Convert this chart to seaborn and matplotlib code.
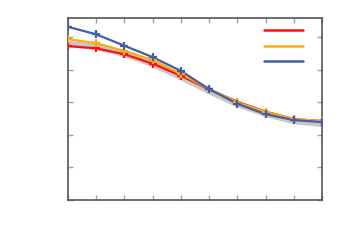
import numpy as np
import pandas as pd
import seaborn as sns
import matplotlib.pyplot as plt
from matplotlib.lines import Line2D

# values
steps = list(range(10))
red_vals = [4.72, 4.65, 4.47, 4.18, 3.81, 3.39, 3.01, 2.71, 2.48, 2.42]
orange_vals = [4.93, 4.81, 4.57, 4.29, 3.87, 3.40, 2.99, 2.70, 2.48, 2.42]
blue_vals = [5.31, 5.08, 4.73, 4.38, 3.96, 3.40, 2.95, 2.63, 2.45, 2.39]
gray_vals = [4.79, 4.69, 4.48, 4.17, 3.77, 3.34, 2.94, 2.64, 2.42, 2.33]
series = ['a', 'b', 'c']
colors = ['#ff1010', '#ffaa10', '#4060a8']

df = pd.DataFrame({
    'x': steps * 3,
    'y': red_vals + orange_vals + blue_vals,
    'series': sum([[s] * len(steps) for s in series], []),
})

sns.set_style('white')
fig = plt.figure(figsize=(3.5, 2.5), dpi=100)
ax = fig.add_axes([0.194, 0.2, 0.726, 0.728])

# gray shadow band under the lines
ax.plot(steps, gray_vals, color='#c8c8c8', linewidth=4.5, zorder=1,
        solid_capstyle='butt')

sns.lineplot(data=df, x='x', y='y', hue='series', palette=colors,
             linewidth=1.6, ax=ax, legend=False, zorder=2)
for s, c in zip(series, colors):
    sub = df[df['series'] == s]
    ax.plot(sub['x'], sub['y'], linestyle='none', marker='+', markersize=6,
            markeredgewidth=1.6, color=c, zorder=3)

ax.set_xlim(0, 9)
ax.set_ylim(0, 5.58)
ax.set_xticks(steps)
ax.set_yticks([0, 1, 2, 3, 4, 5])
ax.set_xticklabels([])
ax.set_yticklabels([])
ax.set_xlabel('')
ax.set_ylabel('')
ax.tick_params(direction='in', length=3.5, width=1, color='#a0a0a0',
               top=True, right=True, bottom=True, left=True)
for sp in ax.spines.values():
    sp.set_color('#555555')
    sp.set_linewidth(1.2)

handles = [Line2D([], [], color=c, linewidth=1.8) for c in colors]
ax.legend(handles, [' ', ' ', ' '], loc='upper right', frameon=False,
          handlelength=4.1, fontsize=7, labelspacing=0.58,
          borderaxespad=0, borderpad=0, handletextpad=0.2,
          bbox_to_anchor=(0.947, 0.96))

fig.savefig('out.png', dpi=100)
